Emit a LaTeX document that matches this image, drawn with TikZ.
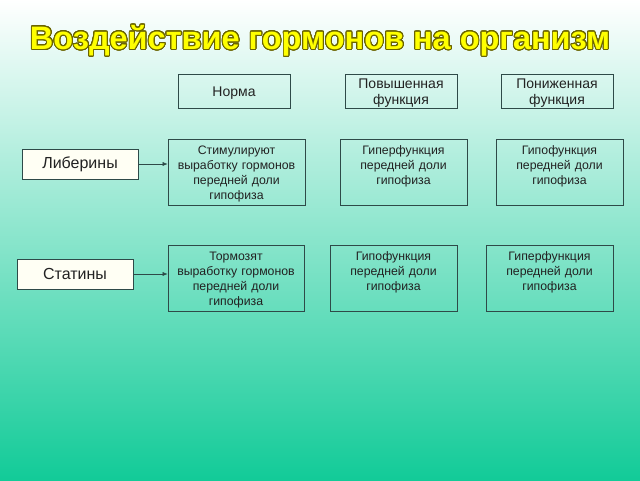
\documentclass[tikz,border=0pt]{standalone}
\usepackage{fontspec}
\setmainfont{Liberation Sans}
\usepackage{xcolor}
\usepackage{graphicx}
\usepackage[copies]{contour}
\usetikzlibrary{arrows.meta}
\contourlength{0.9pt}
\contournumber{32}

\definecolor{bgtop}{HTML}{FFFFFF}
\definecolor{bgmid}{HTML}{98E6D2}
\definecolor{bgbot}{HTML}{12CB98}
\definecolor{edge}{HTML}{2E4A48}
\definecolor{ink}{HTML}{222222}
\definecolor{titlefill}{HTML}{FFFF00}
\definecolor{titleedge}{HTML}{6A6400}
\definecolor{cream}{HTML}{FFFFF4}

\begin{document}
\begin{tikzpicture}[x=1pt, y=-1pt,
    head/.style={draw=edge, line width=0.8pt, text=ink, font=\fontsize{14}{16}\selectfont,
        align=center, text width=112pt, text height=14.5pt, text depth=19.5pt, inner sep=0pt},
    hormone/.style={draw=edge, line width=0.8pt, fill=cream, text=ink,
        font=\fontsize{16}{18}\selectfont, minimum width=116pt, minimum height=30pt, inner sep=0pt},
    cell/.style={draw=edge, line width=0.8pt, text=ink, font=\fontsize{12.3}{15}\selectfont,
        align=center, text width=#1, text height=12pt, text depth=48pt, inner xsep=0pt, inner ysep=3pt},
    cell/.default=127pt]
    \useasboundingbox (0,0) rectangle (640,480);
    \shade[top color=bgtop, middle color=bgmid, bottom color=bgbot] (0,0) rectangle (640,480);

    % title
    \node (title) at (320,41) {\resizebox{580pt}{!}{\bfseries\fontsize{30}{34}\selectfont
        \contour{titleedge}{\textcolor{titlefill}{Воздействие гормонов на организм}}}};

    % column heads
    \node[head, text height=22pt, text depth=12pt] (norm) at (234,91) {Норма};
    \node[head] (up) at (401,91) {Повышенная\\функция};
    \node[head] (down) at (557,91) {Пониженная\\функция};

    % hormones
    \node[hormone] (lib) at (80,164) {Либерины};
    \node[hormone] (stat) at (75,274) {Статины};

    % first row
    \node[cell=137pt] (stim) at (236.5,172) {Стимулируют\\выработку гормонов\\передней доли\\гипофиза};
    \node[cell] (hyperA) at (403.5,172) {Гиперфункция\\передней доли\\гипофиза};
    \node[cell] (hypoA) at (559.5,172) {Гипофункция\\передней доли\\гипофиза};

    % second row
    \node[cell=136pt] (torm) at (236,278) {Тормозят\\выработку гормонов\\передней доли\\гипофиза};
    \node[cell] (hypoB) at (393.5,278) {Гипофункция\\передней доли\\гипофиза};
    \node[cell] (hyperB) at (549.5,278) {Гиперфункция\\передней доли\\гипофиза};

    \draw[-{Latex[length=5pt,width=4pt]}, edge] (lib) -- (stim.west |- lib);
    \draw[-{Latex[length=5pt,width=4pt]}, edge] (stat) -- (torm.west |- stat);
\end{tikzpicture}
\end{document}
